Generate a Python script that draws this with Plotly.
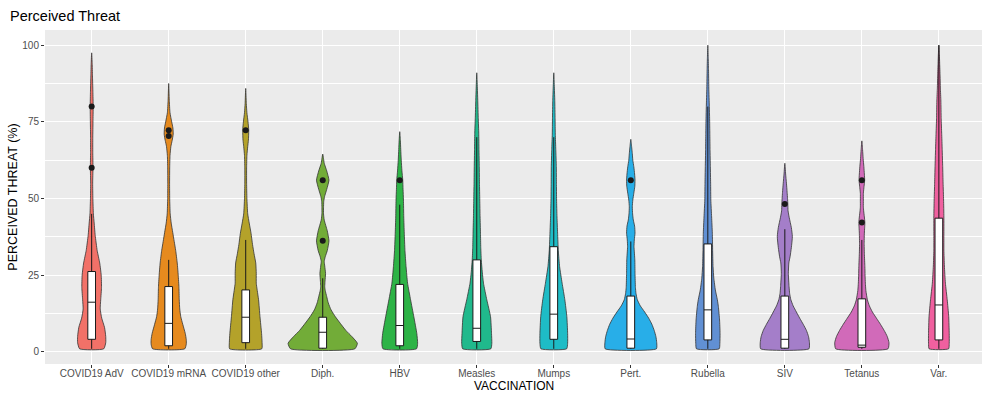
import plotly.graph_objects as go

# Vaccination groups, in axis order
categories = ["COVID19 AdV", "COVID19 mRNA", "COVID19 other", "Diph.", "HBV", "Measles",
              "Mumps", "Pert.", "Rubella", "SIV", "Tetanus", "Var."]

fill_colors = ["#F27168", "#E68A1E", "#B4A22A", "#72AC38", "#2DB346", "#20B98C",
               "#1EBCC6", "#28AEE8", "#6190D4", "#A47EC9", "#D16AB9", "#F0609F"]

# Kernel density profiles (perceived threat level, relative density) per vaccination
adv_y = [1, 3, 5, 8, 11, 14, 17, 21, 25, 29, 33, 38, 42, 45, 50, 55, 60, 65, 70, 75, 80, 85, 90, 94, 97.5]
adv_d = [12, 14, 14, 12.8, 10, 8.5, 9, 9.8, 9.5, 8, 5.5, 3.5, 2.5, 1.7, 1.2, 1.0, 1.3, 1.1, 1.1, 1.3, 1.5, 1.2, 0.8, 0.5, 0]

mrna_y = [1, 2.5, 4, 6, 9, 11.5, 14, 17, 21, 25, 29, 33, 36, 39, 42, 45, 50, 55, 60, 64, 67, 69, 71, 73, 75, 78, 82, 87.5]
mrna_d = [16, 17.5, 17.5, 16.5, 14, 12, 11, 10.5, 10.2, 9.5, 8.5, 7, 5.5, 4, 2.5, 1.5, 1, 0.9, 1.0, 1.3, 2.2, 3.5, 4.5, 4.2, 3, 1.3, 0.6, 0]

other_y = [1, 3, 6, 11.5, 17, 20, 22.4, 25.6, 29, 32, 35, 38.7, 42, 45, 50, 55, 60, 64, 67, 69, 72.3, 75, 78, 81, 85.9]
other_d = [16, 16.3, 15.8, 14.2, 12.8, 11.5, 10.5, 10.5, 10, 8.3, 6.8, 5.3, 3.5, 2, 1.2, 0.9, 0.9, 1.2, 2, 2.7, 3, 2.3, 1.2, 0.6, 0]

diph_y = [1, 2.8, 5, 7, 9.3, 11.5, 13.7, 16, 18, 20, 21.3, 23, 25.6, 28, 29.5, 31, 33, 36.2, 39.5, 43, 45, 47,
          49, 50.6, 53, 56, 59, 61.5, 63, 64.5]
diph_d = [32, 34.5, 29, 23, 17.5, 12.5, 8.3, 5.5, 4, 2.5, 2, 2.3, 2.8, 2, 1.5, 2.5, 4.5, 6.2, 4.5, 1.5, 0.8, 0.8,
          1, 1.8, 4, 6.2, 4, 1.5, 0.8, 0]

hbv_y = [1, 2.8, 6, 11.5, 17, 22.4, 27.8, 33, 38.7, 44, 49.5, 53, 56, 59, 62.5, 66, 69, 71.8]
hbv_d = [16.7, 17.8, 17, 14, 10.8, 7.8, 6.3, 5.2, 4.5, 4, 3.7, 3.3, 3.0, 2.2, 1.5, 1.0, 0.6, 0]

measles_y = [1, 2.8, 6, 11.5, 17, 22.4, 26, 30, 34, 38.7, 44, 49.5, 55, 60.4, 66, 71.3, 76, 82, 86, 91]
measles_d = [14, 15, 14.7, 13.7, 10, 6.7, 5.5, 4.5, 4, 3.7, 3.3, 3, 2.7, 2.5, 2.2, 2, 1.5, 1, 0.6, 0]

mumps_y = [1, 2.8, 6, 11.5, 17, 22.4, 27.8, 33, 38.7, 44, 49.5, 55, 60.4, 66, 71, 76, 82, 86, 91]
mumps_d = [12.8, 13.8, 13.8, 13, 11, 8.3, 5.8, 4.5, 3.8, 3.2, 2.8, 2.6, 2.5, 2, 1.5, 1.3, 1, 0.6, 0]

pert_y = [1, 3, 5, 7, 9, 11, 13, 15, 17, 19, 21, 25.6, 30, 34.3, 36.5, 38.7, 41, 43, 45, 47.3, 49.5, 51.7,
          54, 56, 58, 60.4, 62.5, 64.6, 67, 69.3]
pert_d = [25.5, 25.8, 25, 23.3, 21, 17.8, 13.8, 9.5, 6.5, 5.2, 4.6, 4.2, 4.0, 3.2, 3.5, 4.2, 3.8, 2.5, 1.8, 1.5, 2, 3,
          4, 4.2, 3.8, 3, 2, 1.5, 0.8, 0]

rubella_y = [1, 2.8, 6, 10.4, 14.8, 17, 20.2, 24, 27.8, 33, 38.7, 44, 49.5, 55, 60.4, 66, 71.3, 76, 80, 86, 92, 96, 100]
rubella_d = [11.3, 12, 12.2, 11.7, 10.5, 9.5, 7.5, 6, 5.2, 4.8, 4.5, 3.8, 3.0, 2.8, 2.5, 2.2, 2, 1.8, 1.5, 1, 0.7, 0.4, 0]

siv_y = [1, 3, 5, 7, 9, 11, 13, 15, 17, 19, 21.3, 25.6, 29, 31, 34, 37.6, 40.5, 43.9, 46, 48.2, 50, 52, 55, 58, 61.5]
siv_d = [24, 24.5, 23.6, 21.5, 18.3, 14.8, 11.5, 8.3, 6, 4.8, 4.2, 3.5, 4, 5.2, 6.5, 7.5, 6.5, 4.3, 3.2, 3, 2.7, 2.3, 1.6, 0.8, 0]

tetanus_y = [1, 3, 5, 7, 9, 11, 13, 15, 17, 20, 22.4, 25, 27.8, 32, 35, 38.7, 40.5, 42.2, 44, 46, 47.3, 49.5,
             51.7, 54, 56, 58, 60.4, 63, 66, 68.8]
tetanus_d = [26, 27, 25.3, 22.2, 18.5, 14.5, 10.5, 7.5, 5.5, 4, 3.5, 3.2, 3, 2.5, 2.3, 2.5, 2.8, 3, 2.5, 1.8, 1.5, 1.5,
             1.5, 2.2, 2.8, 2.5, 2, 1.3, 0.7, 0]

var_y = [1, 2.8, 6, 11.5, 17, 22.4, 28, 33.2, 38, 44, 49.5, 55, 60.4, 66, 71.3, 76, 81.8, 86, 90, 94, 97, 100]
var_d = [9.7, 10.3, 10.3, 9.8, 8.3, 6.5, 5.5, 5, 5, 5, 4.7, 4.2, 3.8, 3.3, 2.8, 2.3, 2, 1.5, 1.2, 0.8, 0.5, 0]

# Box-plot summaries
box_lower = [1, 1, 1, 1, 1, 1, 1, 1, 1, 1, 1, 1]
box_q1 = [4.1, 2.0, 3.0, 1.2, 2.0, 3.4, 4.1, 1.2, 3.9, 1.2, 1.5, 3.9]
box_median = [16.2, 9.3, 11.3, 6.4, 8.6, 7.7, 12.3, 4.2, 13.7, 4.1, 2.2, 15.3]
box_q3 = [26.2, 21.3, 20.2, 11.3, 22.0, 30.0, 34.3, 18.2, 35.2, 18.2, 17.3, 43.6]
box_upper = [45, 30, 36.5, 24, 48, 70, 70, 36, 80, 40, 36.5, 100]

# Outlying responses (category index, value)
outlier_cat = [0, 0, 1, 1, 2, 3, 3, 4, 7, 9, 10, 10]
outlier_val = [60, 80, 70.4, 72.3, 72.3, 36.2, 56, 56, 56, 48.2, 42.2, 56]

profiles = [(adv_y, adv_d), (mrna_y, mrna_d), (other_y, other_d), (diph_y, diph_d),
            (hbv_y, hbv_d), (measles_y, measles_d), (mumps_y, mumps_d), (pert_y, pert_d),
            (rubella_y, rubella_d), (siv_y, siv_d), (tetanus_y, tetanus_d), (var_y, var_d)]

# widest violin spans 0.9 of a category slot
max_d = max(max(d) for _, d in profiles)
half_scale = 0.45 / max_d

x_range = [-0.606, 11.56]
y_range = [-3.95, 104.95]

fig = go.Figure()

for i, ((ys, ds), col) in enumerate(zip(profiles, fill_colors)):
    left_x = [i - half_scale * d for d in ds]
    right_x = [i + half_scale * d for d in ds]
    xs = left_x + right_x[-2::-1] + [left_x[0]]
    yv = list(ys) + list(ys)[-2::-1] + [ys[0]]
    fig.add_trace(go.Scatter(
        x=xs, y=yv, mode="lines", fill="toself", fillcolor=col,
        line=dict(color="#333333", width=0.8, shape="spline", smoothing=0.5),
        hoverinfo="skip", showlegend=False,
    ))

# boxes and outliers live on an overlaid axis pair so they render above the violins
fig.add_trace(go.Box(
    x=list(range(len(categories))), q1=box_q1, median=box_median, q3=box_q3,
    lowerfence=box_lower, upperfence=box_upper, orientation="v",
    width=0.1, fillcolor="white", line=dict(color="#1a1a1a", width=1),
    whiskerwidth=0, boxpoints=False, showlegend=False,
    xaxis="x2", yaxis="y2",
))

fig.add_trace(go.Scatter(
    x=outlier_cat, y=outlier_val, mode="markers",
    marker=dict(color="#1a1a1a", size=6), showlegend=False,
    xaxis="x2", yaxis="y2",
))

fig.update_layout(
    width=982, height=393,
    margin=dict(l=45, r=0, t=30, b=29),
    paper_bgcolor="white", plot_bgcolor="#EBEBEB",
    font=dict(family="Liberation Sans, Arial, sans-serif", color="#4D4D4D"),
    title=dict(text="Perceived Threat", x=10 / 982, xref="container", xanchor="left",
               y=1 - 16 / 393, yref="container", yanchor="middle",
               font=dict(size=14.5, color="black")),
    xaxis=dict(
        range=x_range, tickmode="array", tickvals=list(range(len(categories))),
        ticktext=categories, showgrid=True, gridcolor="white", gridwidth=1.1,
        zeroline=False, ticks="outside", ticklen=3, tickcolor="#333333", tickwidth=1,
        tickfont=dict(size=10, color="#4D4D4D"), ticklabelstandoff=-3,
        automargin=False,
    ),
    yaxis=dict(
        range=y_range, tickmode="array", tickvals=[0, 25, 50, 75, 100],
        showgrid=True, gridcolor="white", gridwidth=1.1, zeroline=False,
        ticks="outside", ticklen=3, tickcolor="#333333", tickwidth=1,
        tickfont=dict(size=10, color="#4D4D4D"),
        minor=dict(tickvals=[12.5, 37.5, 62.5, 87.5], showgrid=True, gridcolor="white",
                   gridwidth=0.5, ticks=""),
        title=dict(text="PERCEIVED THREAT (%)", font=dict(size=12.5, color="black"), standoff=1),
        automargin=False,
    ),
    xaxis2=dict(range=x_range, overlaying="x", visible=False, showgrid=False, zeroline=False),
    yaxis2=dict(range=y_range, overlaying="y", visible=False, showgrid=False, zeroline=False),
    annotations=[dict(
        text="VACCINATION", xref="paper", yref="paper", x=0.5, y=-(386 - 364) / 335,
        xanchor="center", yanchor="middle", showarrow=False,
        font=dict(size=12, color="black"),
    )],
)

fig.write_html("out.html")
